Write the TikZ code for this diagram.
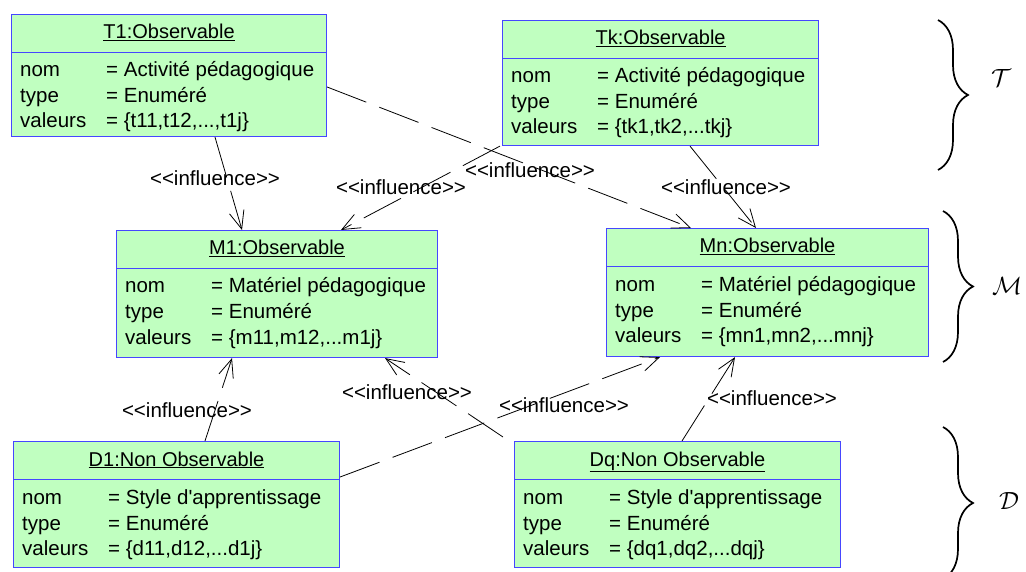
\documentclass[tikz,border=0pt]{standalone}
\usepackage{fontspec}
\newfontfamily\lfont{Liberation Sans}
\usetikzlibrary{arrows.meta,decorations.pathreplacing}
\definecolor{boxfill}{RGB}{192,255,192}
\definecolor{boxline}{RGB}{70,70,255}
\tikzset{
  objbox/.style={draw=boxline, line width=1.1pt, fill=boxfill, rectangle, inner sep=0pt},
  divline/.style={draw=boxline, line width=0.9pt},
  txt/.style={inner sep=0pt, font=\lfont\fontsize{20.5}{24}\selectfont},
  ttl/.style={inner sep=0pt, font=\lfont\fontsize{20}{24}\selectfont},
  lbl/.style={inner sep=0pt, font=\lfont\fontsize{20.5}{24}\selectfont},
  infl/.style={draw=black, line width=0.8pt, dash pattern=on 42pt off 14pt, -{Straight Barb[length=18pt,width=15pt,line width=0.8pt]}},
  brc/.style={draw=black, line width=1.7pt, decoration={brace, amplitude=30pt, aspect=0.5}, decorate},
  setlbl/.style={inner sep=0pt, font=\fontsize{27}{30}\selectfont}
}
\newcommand{\umlobj}[9]{%
  \node[objbox, minimum width=#4pt, minimum height=#5pt, anchor=north west] (#1) at (#2,#3) {};
  \draw[divline] ([yshift=-38pt]#1.north west) -- ([yshift=-38pt]#1.north east);
  \node[ttl, anchor=base] (#1-title) at ([yshift=-25pt]#1.north) {\underline{#6}};
  \node[txt, anchor=base west] (#1-k1) at ([xshift=9pt,yshift=-63pt]#1.north west) {nom};
  \node[txt, anchor=base west] (#1-v1) at ([xshift=95pt,yshift=-63pt]#1.north west) {= #7};
  \node[txt, anchor=base west] (#1-k2) at ([xshift=9pt,yshift=-89pt]#1.north west) {type};
  \node[txt, anchor=base west] (#1-v2) at ([xshift=95pt,yshift=-89pt]#1.north west) {= #8};
  \node[txt, anchor=base west] (#1-k3) at ([xshift=9pt,yshift=-114pt]#1.north west) {valeurs};
  \node[txt, anchor=base west] (#1-v3) at ([xshift=95pt,yshift=-114pt]#1.north west) {= #9};
}
\begin{document}
\begin{tikzpicture}[x=1pt,y=-1pt]
\useasboundingbox (0,0) rectangle (1026,572);

\umlobj{T1}{11}{14}{315}{122}{T1:Observable}{Activité pédagogique}{Enuméré}{\{t11,t12,...,t1j\}}
\umlobj{Tk}{502}{20}{316}{125}{Tk:Observable}{Activité pédagogique}{Enuméré}{\{tk1,tk2,...tkj\}}
\umlobj{M1}{116}{230}{321}{127}{M1:Observable}{Matériel pédagogique}{Enuméré}{\{m11,m12,...m1j\}}
\umlobj{Mn}{606}{228}{322}{128}{Mn:Observable}{Matériel pédagogique}{Enuméré}{\{mn1,mn2,...mnj\}}
\umlobj{D1}{13}{441}{326}{126}{D1:Non Observable}{Style d'apprentissage}{Enuméré}{\{d11,d12,...d1j\}}
\umlobj{Dq}{514}{441}{326}{126}{Dq:Non Observable}{Style d'apprentissage}{Enuméré}{\{dq1,dq2,...dqj\}}

% connectors
\draw[infl] ([xshift=204pt]T1.south west) -- ([xshift=126pt]M1.north west);
\draw[infl] ([yshift=-73pt]T1.north east) -- ([xshift=85pt]Mn.north west);
\draw[infl] ([xshift=-2pt]Tk.south west) -- ([xshift=225pt]M1.north west);
\draw[infl] ([xshift=188pt]Tk.south west) -- ([xshift=150pt]Mn.north west);
\draw[infl] ([xshift=192pt]D1.north west) -- ([xshift=116pt]M1.south west);
\draw[infl] ([yshift=-36pt]D1.north east) -- ([xshift=54pt]Mn.south west);
\draw[infl] ([xshift=-11pt,yshift=4pt]Dq.north west) -- ([xshift=269pt]M1.south west);
\draw[infl] ([xshift=168pt]Dq.north west) -- ([xshift=129pt]Mn.south west);

% labels
\node[lbl] (L1) at (215,178) {<<influence>>};
\node[lbl] (L2) at (530,170) {<<influence>>};
\node[lbl] (L3) at (401,187) {<<influence>>};
\node[lbl] (L4) at (726,187) {<<influence>>};
\node[lbl] (L5) at (187,410) {<<influence>>};
\node[lbl] (L6) at (564,405) {<<influence>>};
\node[lbl] (L7) at (407,392) {<<influence>>};
\node[lbl] (L8) at (772,398) {<<influence>>};

% braces
\draw[brc] (938,20) -- (938,170);
\draw[brc] (943,211) -- (943,362);
\draw[brc] (943,427) -- (943,579);
\node[setlbl] (ST) at (1001,78) {$\mathcal{T}$};
\node[setlbl] (SM) at (1007,286) {$\mathcal{M}$};
\node[setlbl] (SD) at (1009,501) {$\mathcal{D}$};
\end{tikzpicture}
\end{document}
